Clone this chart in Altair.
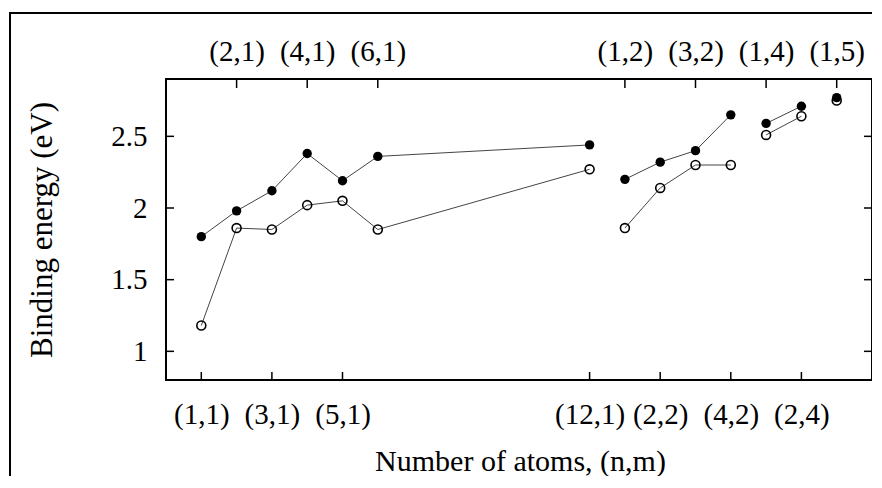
import altair as alt
import pandas as pd

# ---- data ----
labels = ["(1,1)", "(2,1)", "(3,1)", "(4,1)", "(5,1)", "(6,1)", "(12,1)",
          "(1,2)", "(2,2)", "(3,2)", "(4,2)", "(1,4)", "(2,4)", "(1,5)"]
positions = [1, 2, 3, 4, 5, 6, 12, 13, 14, 15, 16, 17, 18, 19]
segments = [1, 1, 1, 1, 1, 1, 1, 2, 2, 2, 2, 3, 3, 4]
filled_vals = [1.80, 1.98, 2.12, 2.38, 2.19, 2.36, 2.44,
               2.20, 2.32, 2.40, 2.65, 2.59, 2.71, 2.77]
open_vals = [1.18, 1.86, 1.85, 2.02, 2.05, 1.85, 2.27,
             1.86, 2.14, 2.30, 2.30, 2.51, 2.64, 2.75]
y_ticks = [1, 1.5, 2, 2.5]

bottom_ticks = positions[0::2]
top_ticks = positions[1::2]

W, H = 706, 301
FONT = "Liberation Serif"

rows = []
for p, s, f, o in zip(positions, segments, filled_vals, open_vals):
    rows.append({"pos": p, "val": f, "series": "filled", "key": f"f{s}"})
    rows.append({"pos": p, "val": o, "series": "open", "key": f"o{s}"})
df = pd.DataFrame(rows)


def label_expr(vals):
    expr = "''"
    for v in reversed(vals):
        lab = labels[positions.index(v)]
        expr = f"datum.value == {v} ? '{lab}' : ({expr})"
    return expr


xscale = alt.Scale(domain=[0, 20], nice=False, zero=False)
yscale = alt.Scale(domain=[0.8, 2.9], nice=False, zero=False)

base = alt.Chart(df)

lines = base.mark_line(color="#444444", strokeWidth=1).encode(
    x=alt.X("pos:Q", scale=xscale,
            axis=alt.Axis(orient="bottom", values=bottom_ticks,
                          labelExpr=label_expr(bottom_ticks),
                          ticks=False, tickSize=0, domain=False, grid=False,
                          labelPadding=43, labelBaseline="alphabetic",
                          title="Number of atoms, (n,m)",
                          titleX=354, titleY=90, titleAlign="center",
                          titleBaseline="alphabetic")),
    y=alt.Y("val:Q", scale=yscale,
            axis=alt.Axis(orient="left", values=y_ticks, format="~g",
                          ticks=False, tickSize=0, domain=False, grid=False,
                          labelPadding=19,
                          title="Binding energy (eV)",
                          titleX=-115, titleY=H / 2, titleAngle=270,
                          titleAlign="center", titleBaseline="alphabetic")),
    detail="key:N",
)

open_pts = base.transform_filter(alt.datum.series == "open").mark_point(
    shape="circle", filled=False, color="black", strokeWidth=1.6, size=80, opacity=1
).encode(
    x=alt.X("pos:Q", scale=xscale,
            axis=alt.Axis(orient="top", values=top_ticks,
                          labelExpr=label_expr(top_ticks),
                          ticks=False, tickSize=0, domain=False, grid=False,
                          labelPadding=19, labelBaseline="alphabetic",
                          title=None)),
    y=alt.Y("val:Q", scale=yscale, axis=None),
)

filled_pts = base.transform_filter(alt.datum.series == "filled").mark_point(
    shape="circle", filled=True, color="black", size=88, opacity=1
).encode(
    x=alt.X("pos:Q", scale=xscale, axis=None),
    y=alt.Y("val:Q", scale=yscale, axis=None),
)

# inward (gnuplot style) tick marks
bt = pd.DataFrame({"pos": bottom_ticks})
tt = pd.DataFrame({"pos": top_ticks})
yt = pd.DataFrame({"val": y_ticks})
tick_style = dict(color="black", strokeWidth=1.5)

bottom_tk = alt.Chart(bt).mark_rule(**tick_style).encode(
    x=alt.X("pos:Q", scale=xscale, axis=None),
    y=alt.value(H), y2=alt.value(H - 8))
top_tk = alt.Chart(tt).mark_rule(**tick_style).encode(
    x=alt.X("pos:Q", scale=xscale, axis=None),
    y=alt.value(0), y2=alt.value(9))
left_tk = alt.Chart(yt).mark_rule(**tick_style).encode(
    y=alt.Y("val:Q", scale=yscale, axis=None),
    x=alt.value(0), x2=alt.value(8))
right_tk = alt.Chart(yt).mark_rule(**tick_style).encode(
    y=alt.Y("val:Q", scale=yscale, axis=None),
    x=alt.value(W), x2=alt.value(W - 8))

# outer figure frame (left and top edges visible)
frame = alt.Chart(pd.DataFrame({"a": [0]})).mark_rect(
    fill=None, stroke="black", strokeWidth=2
).encode(x=alt.value(-156), x2=alt.value(W + 200),
         y=alt.value(-66), y2=alt.value(H + 300))

chart = alt.layer(
    lines, frame, open_pts, filled_pts, bottom_tk, top_tk, left_tk, right_tk
).resolve_axis(x="independent", y="independent").properties(
    width=W, height=H,
    padding={"left": 158, "top": 71, "right": 0, "bottom": 96},
    autosize=alt.AutoSizeParams(type="none"),
).configure_view(
    stroke="black", strokeWidth=2
).configure_axis(
    labelFont=FONT, labelFontSize=29, labelColor="black",
    titleFont=FONT, titleFontSize=30, titleFontWeight="normal", titleColor="black",
).configure_axisLeft(titleFontSize=31)

chart.save("out.html", embed_options={"renderer": "svg", "actions": False})
